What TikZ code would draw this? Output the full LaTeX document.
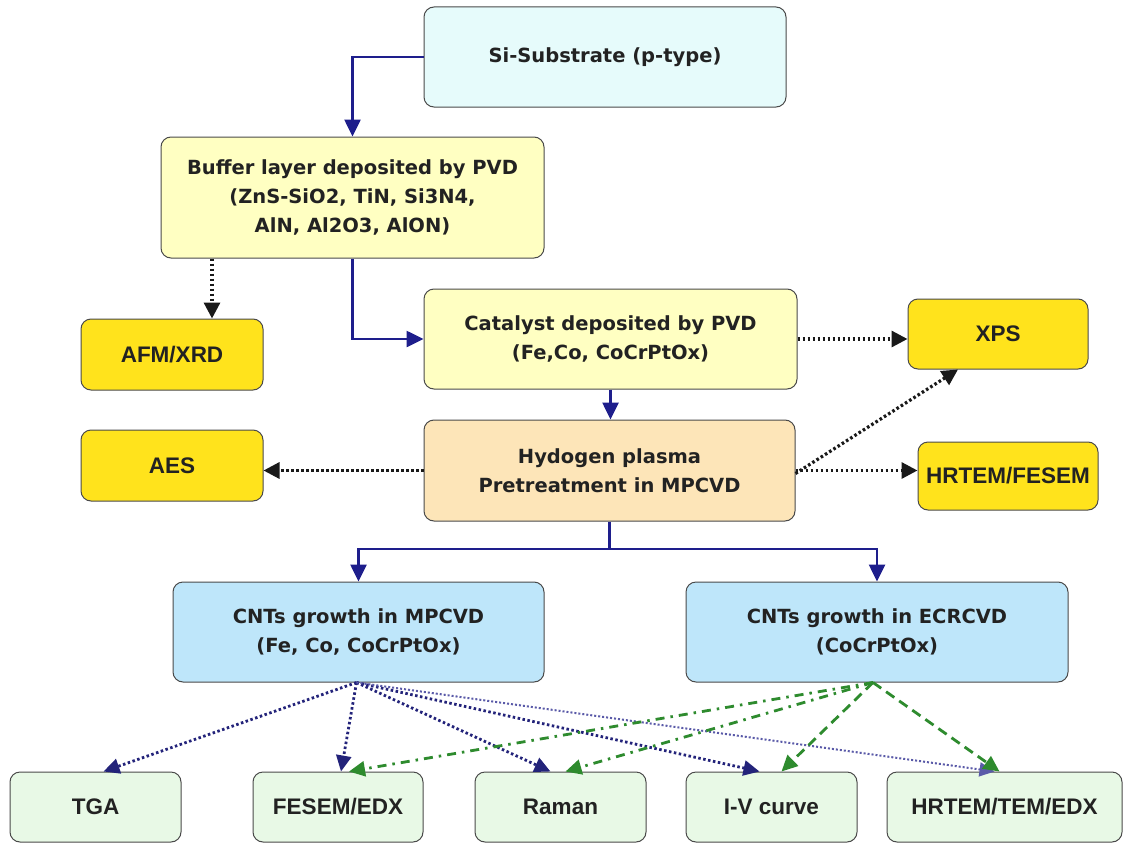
\documentclass[tikz,border=0pt]{standalone}
\usepackage{fontspec}
\setmainfont{Liberation Sans}
\newfontfamily\tahfont{DejaVu Sans}
\usetikzlibrary{arrows.meta,calc}
\definecolor{navy}{HTML}{1E1E8C}
\definecolor{dotnavy}{HTML}{23237A}
\definecolor{lightnavy}{HTML}{5A5AA8}
\definecolor{dkgreen}{HTML}{2E8B2E}
\definecolor{cyanbg}{HTML}{E6FBFB}
\definecolor{lyel}{HTML}{FFFFC2}
\definecolor{gold}{HTML}{FFE31C}
\definecolor{peach}{HTML}{FDE5B8}
\definecolor{lblue}{HTML}{BEE6FA}
\definecolor{lgreen}{HTML}{E8F9E6}
\definecolor{edgecol}{HTML}{4A4A4A}
\definecolor{txt}{HTML}{222222}
\tikzset{
  box/.style={draw=edgecol, line width=1pt, rounded corners=10pt, inner sep=0pt, align=center, text=txt},
  fA/.style={font=\fontsize{22.5}{26}\selectfont\bfseries},
  fB/.style={font=\tahfont\fontsize{19.5}{29}\selectfont\bfseries},
  navyline/.style={draw=navy, line width=2.6pt},
  navyarr/.style={navyline, -{Triangle[length=17pt,width=16pt]}},
  dotblk/.style={draw=black!90, line width=3.2pt, dash pattern=on 2.6pt off 2.4pt, -{Triangle[length=16pt,width=16pt]}},
  dotnv/.style={draw=dotnavy, line width=2.8pt, dash pattern=on 2.5pt off 2.5pt, -{Triangle[length=16pt,width=15pt]}},
  dotlt/.style={draw=lightnavy, line width=2pt, dash pattern=on 2pt off 2pt, -{Triangle[length=15pt,width=14pt]}},
  gdashdot/.style={draw=dkgreen, line width=2.8pt, dash pattern=on 9pt off 6pt on 2.5pt off 6pt, -{Triangle[length=16pt,width=15pt]}},
  gdash/.style={draw=dkgreen, line width=2.8pt, dash pattern=on 10pt off 6pt, -{Triangle[length=16pt,width=15pt]}}
}
\begin{document}
\begin{tikzpicture}[x=1pt,y=-1pt]
\useasboundingbox[fill=white] (0,0) rectangle (1127,843);
% nodes
\node[box, fB, fill=cyanbg, minimum width=362pt, minimum height=100pt] (si) at (605,57) {Si-Substrate (p-type)};
\node[box, fB, fill=lyel, minimum width=383pt, minimum height=121pt] (buf) at (352.5,197.5) {Buffer layer deposited by PVD\\(ZnS-SiO2, TiN, Si3N4,\\AlN, Al2O3, AlON)};
\node[box, fA, fill=gold, minimum width=182pt, minimum height=71pt] (afm) at (172,354.5) {AFM/XRD};
\node[box, fB, fill=lyel, minimum width=373pt, minimum height=100pt] (cat) at (610.5,339) {Catalyst deposited by PVD\\(Fe,Co, CoCrPtOx)};
\node[box, fA, fill=gold, minimum width=180pt, minimum height=70pt] (xps) at (998,334) {XPS};
\node[box, fA, fill=gold, minimum width=182pt, minimum height=71pt] (aes) at (172,465.5) {AES};
\node[box, fB, fill=peach, minimum width=371pt, minimum height=101pt] (hyd) at (609.5,470.5) {Hydogen plasma\\Pretreatment in MPCVD};
\node[box, fA, fill=gold, minimum width=180pt, minimum height=68pt] (hrf) at (1008,476) {HRTEM/FESEM};
\node[box, fB, fill=lblue, minimum width=371pt, minimum height=100pt] (mp) at (358.5,632) {CNTs growth in MPCVD\\(Fe, Co, CoCrPtOx)};
\node[box, fB, fill=lblue, minimum width=382pt, minimum height=100pt] (ecr) at (877,632) {CNTs growth in ECRCVD\\(CoCrPtOx)};
\node[box, fA, fill=lgreen, minimum width=171pt, minimum height=70pt] (tga) at (95.5,807) {TGA};
\node[box, fA, fill=lgreen, minimum width=170pt, minimum height=70pt] (fes) at (338,807) {FESEM/EDX};
\node[box, fA, fill=lgreen, minimum width=171pt, minimum height=70pt] (ram) at (560.5,807) {Raman};
\node[box, fA, fill=lgreen, minimum width=171pt, minimum height=70pt] (iv) at (771.5,807) {I-V curve};
\node[box, fA, fill=lgreen, minimum width=235pt, minimum height=70pt] (hte) at (1004.5,807) {HRTEM/TEM/EDX};
% helper coordinates
\coordinate (afmtop) at ([xshift=40pt]afm.north);
\coordinate (xpsbot) at ([xshift=-40pt]xps.south);
\coordinate (hydne) at ([yshift=-3pt]hyd.east);
\coordinate (jn) at (hyd.south |- 0,549);
\coordinate (mpo) at ([xshift=-2pt]mp.south);
\coordinate (ecro) at ([xshift=-4pt]ecr.south);
\coordinate (tgaT) at ([xshift=8pt]tga.north);
\coordinate (fesN) at ([xshift=3pt]fes.north);
\coordinate (fesG) at ([xshift=11pt]fes.north);
\coordinate (ramN) at ([xshift=-10pt]ram.north);
\coordinate (ramG) at ([xshift=5pt]ram.north);
\coordinate (ivN) at ([xshift=-12pt]iv.north);
\coordinate (ivG) at ([xshift=10pt]iv.north);
\coordinate (hteN) at ([xshift=-10pt]hte.north);
\coordinate (hteG) at ([xshift=-5pt]hte.north);
% solid process arrows
\draw[navyarr] (si.west) -| (buf.north);
\draw[navyarr] (buf.south) |- (cat.west);
\draw[navyarr] (cat.south) -- (cat.south |- hyd.north);
\draw[navyline] (hyd.south) -- (jn);
\draw[navyarr] (jn) -| (mp.north);
\draw[navyarr] (jn) -| (ecr.north);
% black dotted characterisation arrows
\draw[dotblk] (afmtop |- buf.south) -- (afmtop);
\draw[dotblk] (cat.east) -- (cat.east -| xps.west);
\draw[dotblk] (hyd.west) -- (hyd.west -| aes.east);
\draw[dotblk] (hyd.east) -- (hyd.east -| hrf.west);
\draw[dotblk] (hydne) -- (xpsbot);
% MPCVD characterisation
\draw[dotnv] (mpo) -- (tgaT);
\draw[dotnv] (mpo) -- (fesN);
\draw[dotnv] (mpo) -- (ramN);
\draw[dotnv] (mpo) -- (ivN);
\draw[dotlt] (mpo) -- (hteN);
% ECRCVD characterisation
\draw[gdashdot] (ecro) -- (fesG);
\draw[gdashdot] (ecro) -- (ramG);
\draw[gdash] (ecro) -- (ivG);
\draw[gdash] (ecro) -- (hteG);
\end{tikzpicture}
\end{document}
